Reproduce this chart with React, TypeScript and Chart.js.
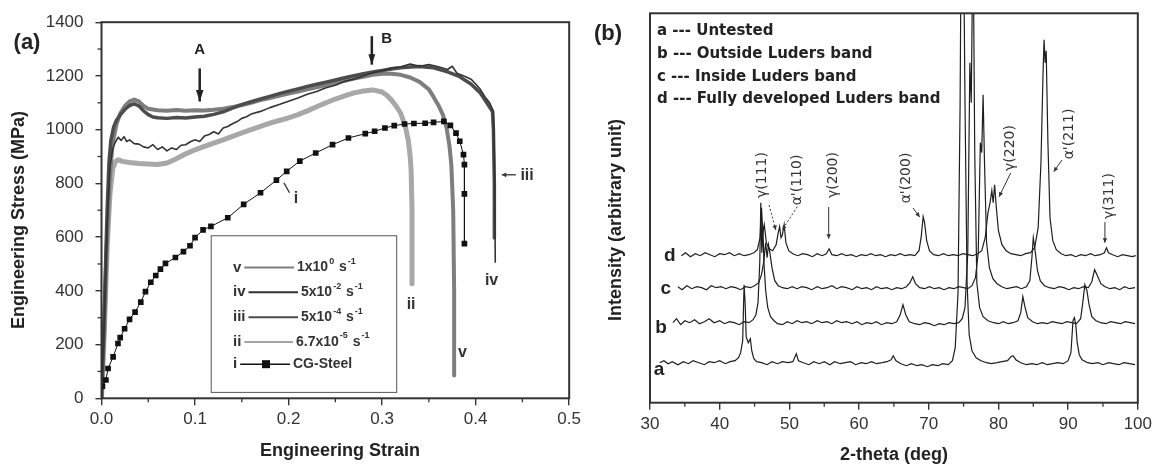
import React, { useEffect, useRef } from 'react';
import { Chart, registerables } from 'chart.js';
Chart.register(...registerables);

type P = [number, number];

// ---------- Panel (a): engineering stress-strain ----------
const strainTickStep = 0.1;
const stressTickStep = 200;
const strainMinor = [0.05, 0.15, 0.25, 0.35, 0.45];
const stressMinor = [100, 300, 500, 700, 900, 1100, 1300];

const curveV: P[] = [[0,0],[0.003,250],[0.006,600],[0.009,830],[0.012,950],[0.016,1020],[0.02,1060],[0.025,1088],[0.03,1105],[0.035,1112],[0.04,1105],[0.045,1088],[0.05,1078],[0.06,1072],[0.07,1070],[0.08,1073],[0.09,1070],[0.1,1072],[0.11,1071],[0.12,1074],[0.13,1078],[0.14,1084],[0.15,1092],[0.16,1100],[0.17,1110],[0.18,1118],[0.19,1126],[0.2,1134],[0.21,1142],[0.22,1150],[0.23,1158],[0.24,1166],[0.25,1174],[0.26,1182],[0.27,1190],[0.28,1197],[0.29,1204],[0.3,1208],[0.31,1208],[0.32,1204],[0.33,1194],[0.34,1178],[0.35,1150],[0.355,1122],[0.36,1092],[0.365,1055],[0.369,1005],[0.372,940],[0.374,870],[0.376,700],[0.377,400],[0.377,85]];
const curveIV: P[] = [[0,0],[0.003,300],[0.006,650],[0.009,860],[0.012,930],[0.015,955],[0.018,972],[0.021,960],[0.024,974],[0.027,956],[0.03,962],[0.035,948],[0.04,946],[0.045,936],[0.05,932],[0.055,944],[0.06,926],[0.065,936],[0.07,921],[0.075,932],[0.08,926],[0.085,942],[0.09,944],[0.095,955],[0.1,962],[0.105,956],[0.11,976],[0.115,982],[0.12,992],[0.125,984],[0.13,1006],[0.135,1012],[0.14,1022],[0.145,1030],[0.15,1042],[0.155,1048],[0.16,1058],[0.17,1068],[0.18,1082],[0.19,1094],[0.2,1106],[0.21,1118],[0.22,1132],[0.23,1142],[0.24,1156],[0.25,1165],[0.26,1180],[0.27,1188],[0.28,1200],[0.29,1212],[0.3,1220],[0.31,1230],[0.32,1234],[0.33,1244],[0.34,1236],[0.35,1242],[0.36,1234],[0.37,1224],[0.375,1236],[0.38,1210],[0.39,1196],[0.395,1188],[0.4,1170],[0.405,1150],[0.41,1122],[0.415,1100],[0.419,1068],[0.42,900],[0.421,505]];
const curveIII: P[] = [[0,0],[0.002,200],[0.004,450],[0.006,700],[0.008,880],[0.01,960],[0.013,1010],[0.016,1035],[0.02,1055],[0.025,1075],[0.03,1090],[0.035,1096],[0.04,1088],[0.045,1070],[0.05,1056],[0.055,1047],[0.06,1044],[0.07,1042],[0.08,1045],[0.09,1043],[0.1,1047],[0.11,1050],[0.12,1057],[0.13,1066],[0.14,1080],[0.15,1093],[0.16,1104],[0.17,1114],[0.18,1124],[0.19,1134],[0.2,1143],[0.21,1152],[0.22,1161],[0.23,1169],[0.24,1177],[0.25,1185],[0.26,1193],[0.27,1201],[0.28,1208],[0.29,1215],[0.3,1220],[0.31,1226],[0.32,1230],[0.33,1233],[0.34,1235],[0.355,1230],[0.37,1215],[0.383,1197],[0.395,1170],[0.405,1136],[0.411,1105],[0.418,1067],[0.419,1000],[0.42,800],[0.42,597]];
const curveII: P[] = [[0,0],[0.003,250],[0.006,560],[0.009,760],[0.012,855],[0.015,882],[0.018,888],[0.022,882],[0.03,878],[0.04,874],[0.05,872],[0.06,870],[0.07,876],[0.08,892],[0.09,910],[0.1,925],[0.11,938],[0.12,950],[0.13,962],[0.14,975],[0.15,988],[0.16,1000],[0.17,1012],[0.18,1024],[0.19,1034],[0.2,1044],[0.21,1056],[0.22,1070],[0.23,1085],[0.24,1100],[0.25,1114],[0.26,1126],[0.27,1137],[0.28,1144],[0.29,1148],[0.3,1140],[0.305,1128],[0.31,1110],[0.315,1088],[0.32,1060],[0.325,1010],[0.328,960],[0.33,900],[0.331,850],[0.332,700],[0.332,426]];
const curveI: P[] = [[0.001,45],[0.0047,68],[0.007,111],[0.0124,154],[0.0176,204],[0.02,226],[0.0247,259],[0.03,294],[0.0359,321],[0.042,358],[0.047,397],[0.0527,432],[0.058,457],[0.063,481],[0.0684,502],[0.079,524],[0.0876,546],[0.0946,568],[0.1,598],[0.1086,627],[0.117,640],[0.135,672],[0.152,722],[0.17,765],[0.187,812],[0.198,845],[0.212,883],[0.229,913],[0.247,944],[0.264,969],[0.282,985],[0.292,994],[0.303,1006],[0.313,1015],[0.324,1021],[0.334,1023],[0.346,1024],[0.355,1027],[0.366,1031],[0.373,1016],[0.379,987],[0.383,957],[0.387,907],[0.388,870],[0.388,761],[0.388,576]];

const legendRoman = ['v', 'iv', 'iii', 'ii', 'i'];
const legendRate: [string, string][] = [['1x10', '0'], ['5x10', '-2'], ['5x10', '-4'], ['6.7x10', '-5']];
const legendLast = 'CG-Steel';

// ---------- Panel (b): XRD ----------
const thetaMinor = [35, 45, 55, 65, 75, 85, 95];
const xrdA: P[] = [[31.4,40],[32,42],[32.6,39],[33.2,41],[34,38],[34.8,41],[35.5,39],[36.2,42],[37,40],[37.8,38],[38.5,41],[39.2,40],[40,42],[40.8,39],[41.5,41],[42.2,42],[42.7,45],[43.0,50],[43.3,62],[43.5,118],[43.65,100],[43.8,66],[44.1,60],[44.4,64],[44.6,52],[44.9,44],[45.3,41],[46,40],[46.8,38],[47.5,41],[48.3,39],[49,41],[49.8,40],[50.5,41],[51,49],[51.3,42],[52,40],[52.8,38],[53.5,41],[54.3,39],[55,41],[55.8,38],[56.5,41],[57.3,39],[58,40],[58.8,41],[59.5,38],[60.3,40],[61,39],[61.8,41],[62.5,39],[63.3,40],[64,41],[64.6,43],[64.9,47],[65.3,42],[66,39],[66.8,37],[67.5,39],[68.3,37],[69,38],[69.8,36],[70.5,38],[71.3,37],[72,39],[72.8,38],[73.4,42],[73.8,55],[74.2,110],[74.5,300],[74.7,520],[74.85,420],[75.0,460],[75.2,300],[75.5,120],[75.8,68],[76.2,52],[76.8,45],[77.5,42],[78.3,40],[79,39],[79.8,40],[80.5,41],[81.3,42],[81.8,46],[82.1,47],[82.5,43],[83.2,40],[84,38],[84.8,39],[85.5,38],[86.3,40],[87,38],[87.8,39],[88.5,40],[89.3,39],[90,42],[90.4,50],[90.7,82],[90.9,85],[91.1,78],[91.3,60],[91.6,48],[92,43],[92.8,40],[93.5,39],[94.3,40],[95,38],[95.8,40],[96.5,39],[97.3,38],[98,40],[98.8,39],[99.6,38]];
const xrdB: P[] = [[33.3,80],[33.8,84],[34.4,78],[35,82],[35.7,80],[36.4,83],[37.1,79],[37.8,81],[38.5,84],[39.2,80],[40,82],[40.7,79],[41.4,81],[42.1,80],[42.8,78],[43.5,81],[44.2,80],[44.8,83],[45.2,88],[45.5,100],[45.75,140],[45.9,200],[46.05,150],[46.2,175],[46.35,140],[46.6,112],[46.9,95],[47.3,86],[47.8,82],[48.3,79],[49,78],[49.7,81],[50.4,79],[51.1,82],[51.8,80],[52.5,81],[53.2,79],[54,82],[54.7,80],[55.4,81],[56.1,79],[56.8,82],[57.5,80],[58.2,81],[59,79],[59.7,81],[60.4,78],[61.1,80],[61.8,79],[62.5,81],[63.2,78],[64,80],[64.7,79],[65.4,81],[65.9,88],[66.3,98],[66.7,88],[67.2,81],[68,79],[68.7,78],[69.4,80],[70.1,79],[70.8,77],[71.5,79],[72.2,78],[72.9,80],[73.6,79],[74.3,80],[74.8,84],[75.2,95],[75.6,150],[75.9,340],[76.1,300],[76.35,480],[76.6,250],[76.9,120],[77.3,95],[77.8,86],[78.5,82],[79.3,80],[80,79],[80.7,81],[81.4,79],[82.1,80],[82.8,82],[83.2,90],[83.5,106],[83.8,96],[84.2,85],[84.9,81],[85.6,79],[86.3,80],[87,79],[87.7,81],[88.4,80],[89.1,79],[89.8,81],[90.5,80],[91.2,79],[91.8,84],[92.1,100],[92.4,118],[92.7,112],[93,98],[93.4,86],[94,82],[94.7,80],[95.4,79],[96.1,81],[96.8,80],[97.5,79],[98.2,81],[98.9,80],[99.6,79]];
const xrdC: P[] = [[34,116],[34.6,113],[35.3,117],[36,114],[36.7,116],[37.4,115],[38.1,113],[38.8,117],[39.5,115],[40.2,116],[40.9,114],[41.6,116],[42.3,115],[43,113],[43.7,116],[44.4,115],[45,117],[45.6,120],[46.0,128],[46.3,140],[46.6,160],[46.8,145],[47.0,158],[47.2,150],[47.5,135],[47.9,122],[48.4,117],[49,115],[49.7,114],[50.4,116],[51.1,114],[51.8,116],[52.5,115],[53.2,113],[54,116],[54.7,114],[55.4,115],[56.1,117],[56.8,114],[57.5,116],[58.2,115],[59,113],[59.7,116],[60.4,114],[61.1,115],[61.8,113],[62.5,116],[63.2,114],[64,115],[64.7,113],[65.4,115],[66.1,114],[66.8,116],[67.3,120],[67.7,126],[68.1,119],[68.7,115],[69.4,114],[70.1,116],[70.8,114],[71.5,115],[72.2,113],[72.9,115],[73.6,114],[74.3,116],[75,115],[75.6,114],[76.2,117],[76.7,125],[77.1,150],[77.4,260],[77.6,250],[77.8,308],[78.0,240],[78.3,160],[78.7,135],[79.2,124],[79.8,119],[80.5,116],[81.2,114],[81.9,115],[82.6,116],[83.3,114],[84,116],[84.5,122],[84.8,145],[85.0,165],[85.3,150],[85.6,132],[86,122],[86.6,117],[87.3,115],[88,114],[88.7,116],[89.4,115],[90.1,113],[90.8,115],[91.5,114],[92.2,116],[92.9,115],[93.4,121],[93.8,133],[94.2,127],[94.7,119],[95.3,116],[96,114],[96.7,115],[97.4,113],[98.1,116],[98.8,114],[99.6,115]];
const xrdD: P[] = [[34.5,147],[35.1,150],[35.8,146],[36.5,149],[37.2,147],[37.9,150],[38.6,148],[39.3,146],[40,149],[40.7,148],[41.4,150],[42.1,147],[42.8,149],[43.5,147],[44.2,148],[44.9,150],[45.4,153],[45.8,165],[46.0,195],[46.2,170],[46.4,178],[46.7,160],[47.1,154],[47.6,152],[48.1,158],[48.4,170],[48.6,176],[48.8,165],[49.0,168],[49.25,178],[49.5,160],[49.9,152],[50.5,149],[51.2,147],[51.9,149],[52.6,148],[53.3,146],[54,149],[54.7,147],[55.3,149],[55.7,154],[56.1,148],[56.8,147],[57.5,149],[58.2,147],[58.9,148],[59.6,146],[60.3,148],[61,147],[61.7,149],[62.4,147],[63.1,148],[63.8,146],[64.5,148],[65.2,147],[65.9,149],[66.6,147],[67.3,148],[68,147],[68.6,152],[68.9,165],[69.2,186],[69.4,180],[69.7,162],[70.1,152],[70.7,148],[71.4,147],[72.1,149],[72.8,147],[73.5,148],[74.2,147],[74.9,149],[75.6,148],[76.3,147],[77,149],[77.6,152],[78.1,165],[78.5,190],[78.8,200],[79.05,212],[79.25,200],[79.45,218],[79.7,195],[80,172],[80.5,158],[81.1,152],[81.8,149],[82.5,148],[83.2,147],[83.9,149],[84.6,150],[85.2,155],[85.7,175],[86.1,240],[86.4,330],[86.55,363],[86.7,340],[86.85,352],[87.1,260],[87.4,185],[87.8,162],[88.3,153],[89,149],[89.7,147],[90.4,148],[91.1,146],[91.8,148],[92.5,147],[93.2,149],[93.9,147],[94.6,148],[95.2,150],[95.5,155],[95.8,150],[96.4,148],[97.1,146],[97.8,148],[98.5,147],[99.2,146],[99.7,147]];
const xrdLegend = ['a --- Untested', 'b --- Outside Luders band', 'c --- Inside Luders band', 'd --- Fully developed Luders band'];
const curveNames = ['a', 'b', 'c', 'd'];
const peakLabels = ["γ(111)", "α'(110)", "γ(200)", "α'(200)", "γ(220)", "α'(211)", "γ(311)"];

const toXY = (arr: P[]) => arr.map(([x, y]) => ({ x, y }));
const SANS = "'Liberation Sans', Arial, sans-serif";
const DJ = "'DejaVu Sans', sans-serif";

function arrow(ctx: CanvasRenderingContext2D, x1: number, y1: number, x2: number, y2: number, head: number, spread = 0.38) {
  ctx.beginPath(); ctx.moveTo(x1, y1); ctx.lineTo(x2, y2); ctx.stroke();
  const a = Math.atan2(y2 - y1, x2 - x1);
  ctx.beginPath();
  ctx.moveTo(x2, y2);
  ctx.lineTo(x2 - head * Math.cos(a - spread), y2 - head * Math.sin(a - spread));
  ctx.lineTo(x2 - head * Math.cos(a + spread), y2 - head * Math.sin(a + spread));
  ctx.closePath(); ctx.fill();
}

function rich(ctx: CanvasRenderingContext2D, base: string, sup: string, x: number, y: number) {
  ctx.font = `bold 14px ${SANS}`;
  ctx.textAlign = 'left'; ctx.textBaseline = 'middle';
  ctx.fillText(base, x, y);
  let cx = x + ctx.measureText(base).width + 1;
  ctx.font = `bold 9px ${SANS}`;
  ctx.fillText(sup, cx, y - 6);
  cx += ctx.measureText(sup).width + 1;
  ctx.font = `bold 14px ${SANS}`;
  ctx.fillText(' s', cx, y);
  cx += ctx.measureText(' s').width + 1;
  ctx.font = `bold 9px ${SANS}`;
  ctx.fillText('-1', cx, y - 6);
}

function boxAndMinor(chart: any, xMinor: number[], yMinor: number[]) {
  const { ctx, chartArea: a, scales } = chart;
  ctx.save();
  ctx.strokeStyle = '#333'; ctx.lineWidth = 2;
  ctx.strokeRect(a.left, a.top, a.right - a.left, a.bottom - a.top);
  ctx.lineWidth = 1.3;
  xMinor.forEach((v) => {
    const p = scales.x.getPixelForValue(v);
    ctx.beginPath(); ctx.moveTo(p, a.bottom); ctx.lineTo(p, a.bottom + 4); ctx.stroke();
  });
  yMinor.forEach((v) => {
    const p = scales.y.getPixelForValue(v);
    ctx.beginPath(); ctx.moveTo(a.left, p); ctx.lineTo(a.left - 4, p); ctx.stroke();
  });
  ctx.restore();
}

const leftDecor = {
  id: 'leftDecor',
  afterDraw(chart: any) {
    boxAndMinor(chart, strainMinor, stressMinor);
    const { ctx, scales: { x, y } } = chart;
    const X = (v: number) => x.getPixelForValue(v);
    const Y = (v: number) => y.getPixelForValue(v);
    ctx.save();
    ctx.fillStyle = '#222'; ctx.strokeStyle = '#222';
    ctx.font = `bold 22px ${SANS}`; ctx.textAlign = 'center'; ctx.textBaseline = 'middle';
    ctx.fillText('(a)', 27, 43);
    ctx.font = `bold 18px ${SANS}`;
    ctx.fillText('Engineering Strain', 340, 451);
    ctx.save(); ctx.translate(19, 220); ctx.rotate(-Math.PI / 2);
    ctx.fillText('Engineering Stress (MPa)', 0, 0); ctx.restore();
    ctx.font = `bold 15px ${SANS}`;
    ctx.fillText('A', X(0.105), Y(1298));
    ctx.lineWidth = 2.5;
    arrow(ctx, X(0.105), Y(1228), X(0.105), Y(1105), 12, 0.32);
    ctx.fillText('B', X(0.305), Y(1338));
    arrow(ctx, X(0.289), Y(1348), X(0.289), Y(1242), 11, 0.32);
    ctx.font = `bold 16px ${SANS}`; ctx.fillStyle = '#333'; ctx.strokeStyle = '#333';
    ctx.lineWidth = 1.3;
    ctx.beginPath(); ctx.moveTo(X(0.195), Y(802)); ctx.lineTo(X(0.201), Y(765)); ctx.stroke();
    ctx.fillText('i', X(0.208), Y(742));
    ctx.fillText('iii', X(0.455), Y(830));
    arrow(ctx, X(0.443), Y(832), X(0.428), Y(832), 5, 0.5);
    ctx.fillText('iv', X(0.417), Y(438));
    ctx.fillText('ii', X(0.331), Y(349));
    ctx.fillText('v', X(0.386), Y(171));
    const bx0 = X(0.1173), bx1 = X(0.3156), by0 = Y(605), by1 = Y(22);
    ctx.strokeStyle = '#555'; ctx.lineWidth = 1;
    ctx.strokeRect(bx0, by0, bx1 - bx0, by1 - by0);
    const rows = [487, 395, 302, 210, 127];
    const cols = ['#7c7c7c', '#333', '#4a4a4a', '#a5a5a5', '#111'];
    const textX = [297, 301, 301, 296, 293];
    rows.forEach((r, i) => {
      const yy = Y(r);
      ctx.fillStyle = '#333';
      ctx.font = `bold 15px ${SANS}`; ctx.textAlign = 'left'; ctx.textBaseline = 'middle';
      ctx.fillText(legendRoman[i], 233, yy);
      const lw = ctx.measureText(legendRoman[i]).width;
      ctx.strokeStyle = cols[i]; ctx.lineWidth = i === 4 ? 1.5 : 2;
      ctx.beginPath(); ctx.moveTo(233 + lw + 3, yy); ctx.lineTo(textX[i] - 3, yy); ctx.stroke();
      if (i === 4) { ctx.fillStyle = '#111'; ctx.fillRect(262, yy - 4, 8, 8); }
      ctx.fillStyle = '#333';
      if (i < 4) rich(ctx, legendRate[i][0], legendRate[i][1], textX[i], yy);
      else { ctx.font = `bold 14px ${SANS}`; ctx.fillText(legendLast, textX[i], yy); }
    });
    ctx.restore();
  },
};

const rightDecor = {
  id: 'rightDecor',
  afterDraw(chart: any) {
    boxAndMinor(chart, thetaMinor, []);
    const { ctx, scales: { x, y } } = chart;
    const X = (v: number) => x.getPixelForValue(v);
    const Y = (v: number) => y.getPixelForValue(v);
    ctx.save();
    ctx.fillStyle = '#222'; ctx.strokeStyle = '#222';
    ctx.textAlign = 'center'; ctx.textBaseline = 'middle';
    ctx.font = `bold 22px ${SANS}`;
    ctx.fillText('(b)', 608 - 585, 34);
    ctx.font = `bold 18px ${SANS}`;
    ctx.fillText('2-theta (deg)', 894 - 585, 455);
    ctx.save(); ctx.translate(616 - 585, 220); ctx.rotate(-Math.PI / 2);
    ctx.fillText('Intensity (arbitrary unit)', 0, 0); ctx.restore();
    ctx.font = `bold 15px ${DJ}`; ctx.textAlign = 'left';
    const ly = [371.7, 348.7, 325.2, 303.7];
    xrdLegend.forEach((t, i) => ctx.fillText(t, X(31.0), Y(ly[i])));
    ctx.font = `bold 19px ${SANS}`; ctx.textAlign = 'center';
    const nx = [31.28, 31.57, 32.28, 32.85];
    const ny = [33, 75, 114, 147];
    curveNames.forEach((n, i) => ctx.fillText(n, X(nx[i]), Y(ny[i])));
    ctx.font = `14px ${DJ}`; ctx.fillStyle = '#333';
    const px = [46.1, 51.08, 56.35, 66.75, 81.71, 90.11, 95.95];
    const py = [227.7, 222.7, 227.7, 224.7, 254.7, 268.7, 206.7];
    peakLabels.forEach((t, i) => {
      ctx.save(); ctx.translate(X(px[i]), Y(py[i])); ctx.rotate(-Math.PI / 2);
      ctx.fillText(t, 0, 0); ctx.restore();
    });
    ctx.strokeStyle = '#333'; ctx.fillStyle = '#333'; ctx.lineWidth = 1;
    const arr: [number, number, number, number][] = [
      [47.09, 197.7, 48.05, 172.7], [51.12, 196, 48.99, 172.7], [55.64, 195.7, 55.64, 164],
      [67.75, 194.7, 68.7, 185.7], [81.75, 229.7, 80.1, 206], [89.12, 242.7, 87.93, 231], [95.28, 180.7, 95.28, 160],
    ];
    arr.forEach(([a1, b1, a2, b2], i) => {
      if (i < 2) ctx.setLineDash([2, 2]); else ctx.setLineDash([]);
      arrow(ctx, X(a1), Y(b1), X(a2), Y(b2), 5, 0.45);
    });
    ctx.restore();
  },
};

function LeftChart() {
  const ref = useRef<HTMLCanvasElement>(null);
  useEffect(() => {
    const thick = (data: P[], color: string, w: number, order: number) => ({
      data: toXY(data), borderColor: color, borderWidth: w, pointRadius: 0, tension: 0, order, borderJoinStyle: 'round',
    });
    const chart = new Chart(ref.current!, {
      type: 'line',
      data: {
        datasets: [
          { ...thick(curveII, '#a8a8a8', 5, 5), label: 'ii' },
          { ...thick(curveV, '#7e7e7e', 4, 4), label: 'v' },
          { ...thick(curveIII, '#4c4c4c', 3.5, 3), label: 'iii' },
          { ...thick(curveIV, '#333', 1.6, 2), label: 'iv' },
          {
            label: 'i', data: toXY(curveI), borderColor: '#111', borderWidth: 1, order: 1,
            pointStyle: 'rect', pointRadius: 4, pointBackgroundColor: '#111', pointBorderWidth: 0, tension: 0,
          },
        ] as any,
      },
      options: {
        responsive: false, animation: false,
        layout: { padding: { top: 20.7, right: 7, bottom: 0, left: 0 } },
        plugins: { legend: { display: false }, tooltip: { enabled: false } },
        scales: {
          x: {
            type: 'linear', min: 0, max: 0.5,
            afterFit: (s: any) => { s.height = 67.7; },
            border: { display: false },
            grid: { drawOnChartArea: false, tickLength: 7, color: '#333', lineWidth: 1.4 },
            ticks: { stepSize: strainTickStep, padding: 4, color: '#333', font: { size: 17, family: SANS }, maxRotation: 0, autoSkip: false, callback: (v: any) => Number(v).toFixed(1) },
          },
          y: {
            type: 'linear', min: 0, max: 1400,
            afterFit: (s: any) => { s.width = 101.5; },
            border: { display: false },
            grid: { drawOnChartArea: false, tickLength: 6, color: '#333', lineWidth: 1.4 },
            ticks: { stepSize: stressTickStep, padding: 12, color: '#333', font: { size: 17, family: SANS }, callback: (v: any) => String(Math.round(Number(v))) },
          },
        },
      } as any,
      plugins: [leftDecor],
    });
    return () => chart.destroy();
  }, []);
  return <canvas ref={ref} width={585} height={466} style={{ display: 'block' }} />;
}

function RightChart() {
  const ref = useRef<HTMLCanvasElement>(null);
  useEffect(() => {
    const ds = (data: P[], label: string) => ({ label, data: toXY(data), borderColor: '#1e1e1e', borderWidth: 1.2, pointRadius: 0, tension: 0 });
    const chart = new Chart(ref.current!, {
      type: 'line',
      data: { datasets: [ds(xrdA, 'a'), ds(xrdB, 'b'), ds(xrdC, 'c'), ds(xrdD, 'd')] as any },
      options: {
        responsive: false, animation: false,
        layout: { padding: { top: 13.3, right: 14.3, bottom: 0, left: 0 } },
        plugins: { legend: { display: false }, tooltip: { enabled: false } },
        scales: {
          x: {
            type: 'linear', min: 30, max: 100,
            afterFit: (s: any) => { s.height = 63.3; },
            border: { display: false },
            grid: { drawOnChartArea: false, tickLength: 7, color: '#333', lineWidth: 1.4 },
            ticks: { stepSize: 10, padding: 4, color: '#333', font: { size: 17, family: SANS }, maxRotation: 0, autoSkip: false },
          },
          y: {
            type: 'linear', min: 0, max: 389.4,
            afterFit: (s: any) => { s.width = 65; },
            border: { display: false },
            grid: { display: false },
            ticks: { display: false },
          },
        },
      } as any,
      plugins: [rightDecor],
    });
    return () => chart.destroy();
  }, []);
  return <canvas ref={ref} width={571} height={466} style={{ display: 'block' }} />;
}

export default function App() {
  return (
    <div style={{ position: 'absolute', left: 0, top: 0, width: 1156, height: 466, background: '#fff', display: 'flex' }}>
      <LeftChart />
      <RightChart />
    </div>
  );
}
